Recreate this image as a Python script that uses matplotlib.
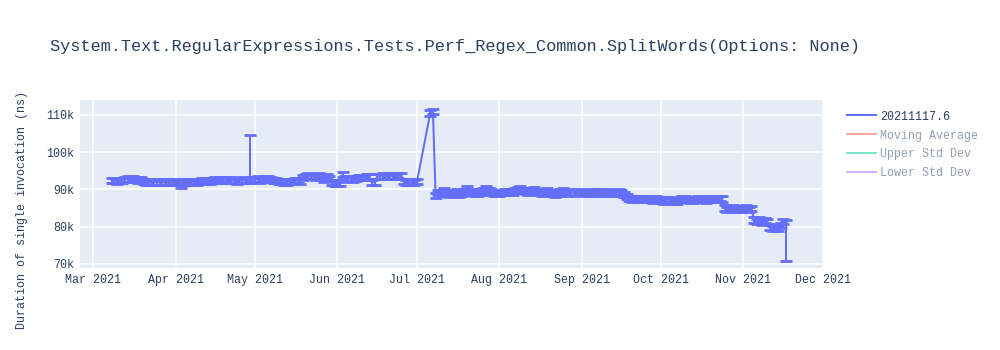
import pandas as pd
import matplotlib.pyplot as plt
from matplotlib.lines import Line2D
import matplotlib.dates as mdates
from matplotlib.ticker import FuncFormatter

# daily mean duration, in thousands of ns
mar = [92.3, 92.4, 92.2, 92.3, 92.4, 92.7, 92.8, 92.6, 92.9, 92.7, 92.5, 92.6,
       92.1, 91.9, 92.0, 91.8, 91.9, 92.0, 91.8, 91.9, 92.0, 91.9, 92.1, 92.0]
apr = [92.0, 91.9, 91.0, 92.0, 92.1, 91.9, 92.0, 92.2, 91.9, 92.1,
       92.3, 92.2, 92.4, 92.1, 92.3, 92.5, 92.3, 92.6, 92.7, 92.5,
       92.4, 92.3, 92.5, 92.2, 92.4, 92.3, 92.5, 92.4, 92.5, 92.6]
may = [92.6, 92.8, 92.5, 92.7, 92.9, 93.0, 92.6, 92.4, 92.3, 92.1,
       92.2, 91.9, 92.0, 92.2, 92.1, 92.3, 92.4, 92.2, 93.2, 93.5,
       93.6, 93.4, 93.5, 93.3, 93.6, 93.2, 92.8, 93.4, 93.0, 91.8, 91.6]
jun = [91.5, 91.7, 94.0, 92.8, 92.9, 93.0, 92.8, 92.9, 93.1, 93.2,
       93.3, 93.4, 93.5, 91.8, 92.0, 93.4, 93.5, 93.6, 93.4, 93.5,
       93.6, 93.5, 93.4, 93.7, 93.6, 92.1, 91.9, 92.0, 92.2, 91.8]
jul_a = [92.1]
jul_b = [110.5, 111.0,
         88.4, 89.2, 88.9, 89.6, 89.0, 88.7, 89.2, 88.9, 89.3, 88.6, 88.9,
         89.4, 90.1, 89.5, 89.2, 88.8, 89.0, 89.3, 89.6, 90.2, 89.7, 89.3,
         89.0, 88.9]
aug = [88.8, 89.2, 89.4, 89.1, 89.5, 89.3, 89.6, 89.9, 90.2, 89.8,
       89.4, 89.2, 89.7, 90.0, 89.5, 89.1, 88.9, 89.3, 89.6, 89.2,
       88.9, 88.7, 89.0, 89.4, 89.7, 89.2, 88.9, 89.1, 89.3, 89.0, 89.2]
sep = [89.1, 89.4, 89.0, 88.8, 89.2, 89.5, 89.3, 89.0, 88.9, 89.2,
       89.4, 89.1, 88.9, 89.0, 89.3, 89.1, 88.7, 88.0, 87.6, 87.4,
       87.5, 87.3, 87.6, 87.4, 87.2, 87.5, 87.3, 87.1, 87.4, 87.2]
oct_ = [87.0, 86.9, 87.2, 87.3, 87.1, 86.8, 86.9, 87.2, 87.4, 87.5,
        87.3, 87.1, 87.0, 87.2, 87.4, 87.6, 87.3, 87.1, 87.5, 87.4,
        87.6, 87.3, 87.5, 87.4, 85.0, 84.6, 84.8, 85.2, 84.5, 84.9, 84.7]
nov = [84.8, 85.1, 84.6, 84.9, 81.8, 81.4, 81.9, 81.2, 81.6, 81.3,
       79.8, 79.4, 80.0, 79.6, 80.4, 81.3, 81.0]

segments = [("2021-03-08", mar), ("2021-04-01", apr), ("2021-05-01", may),
            ("2021-06-01", jun), ("2021-07-01", jul_a), ("2021-07-06", jul_b),
            ("2021-08-01", aug), ("2021-09-01", sep), ("2021-10-01", oct_),
            ("2021-11-01", nov)]

err = 700  # usual spread, ns
err_up_extra = {"2021-04-29": 12000}
err_down_extra = {"2021-11-17": 10200}

frames = []
for start, vals in segments:
    frames.append(pd.DataFrame({
        "date": pd.date_range(start, periods=len(vals), freq="D"),
        "ns": [v * 1000 for v in vals],
    }))
df = pd.concat(frames, ignore_index=True)
df["lo"] = err
df["hi"] = err
for d, e in err_up_extra.items():
    df.loc[df["date"] == d, "hi"] = e
for d, e in err_down_extra.items():
    df.loc[df["date"] == d, "lo"] = e

series_name = "20211117.6"
legend_names = ["Moving Average", "Upper Std Dev", "Lower Std Dev"]

font = "Liberation Mono"
text_color = "#2a3f5f"
blue = "#636efa"

fig = plt.figure(figsize=(10, 3.5), dpi=100)
ax = fig.add_axes([0.08, 1 - 268 / 350, 0.743, 168 / 350])
ax.set_facecolor("#e5ecf6")

ax.errorbar(df["date"], df["ns"], yerr=[df["lo"], df["hi"]],
            color=blue, linewidth=1.44, elinewidth=1.44,
            capsize=4.5, capthick=2.0, ecolor=blue)

ax.set_xlim(pd.Timestamp("2021-02-24"), pd.Timestamp("2021-12-01"))
ax.set_ylim(68900, 114000)
ax.set_yticks([70000, 80000, 90000, 100000, 110000])
ax.yaxis.set_major_formatter(FuncFormatter(lambda v, p: f"{int(v / 1000)}k"))
ax.xaxis.set_major_locator(mdates.MonthLocator())
ax.xaxis.set_major_formatter(mdates.DateFormatter("%b %Y"))

ax.grid(True, color="white", linewidth=1.1)
ax.set_axisbelow(True)
for s in ax.spines.values():
    s.set_visible(False)
ax.tick_params(length=0, pad=4, labelsize=8.4, labelcolor=text_color)
for lab in ax.get_xticklabels() + ax.get_yticklabels():
    lab.set_fontfamily(font)

fig.text(0.05, 1 - 46 / 350,
         "System.Text.RegularExpressions.Tests.Perf_Regex_Common.SplitWords(Options: None)",
         fontsize=12.2, family=font, color=text_color, va="center", ha="left")
fig.text(0.022, 1 - 210 / 350, "Duration of single invocation (ns)",
         rotation=90, fontsize=8.4, family=font, color=text_color,
         va="center", ha="center")

handles = [Line2D([], [], color=blue, linewidth=1.44),
           Line2D([], [], color="#f7aa9d", linewidth=1.44),
           Line2D([], [], color="#7fe5ca", linewidth=1.44),
           Line2D([], [], color="#d5b1fc", linewidth=1.44)]
leg = fig.legend(handles, [series_name] + legend_names, loc="upper left",
                 bbox_to_anchor=(0.836, 1 - 100 / 350), frameon=False,
                 prop={"family": font, "size": 8.4}, handlelength=2.5,
                 handletextpad=0.4, labelspacing=0.6)
for i, t in enumerate(leg.get_texts()):
    t.set_color(text_color if i == 0 else "#94a0af")

fig.savefig("out.png", dpi=100)
